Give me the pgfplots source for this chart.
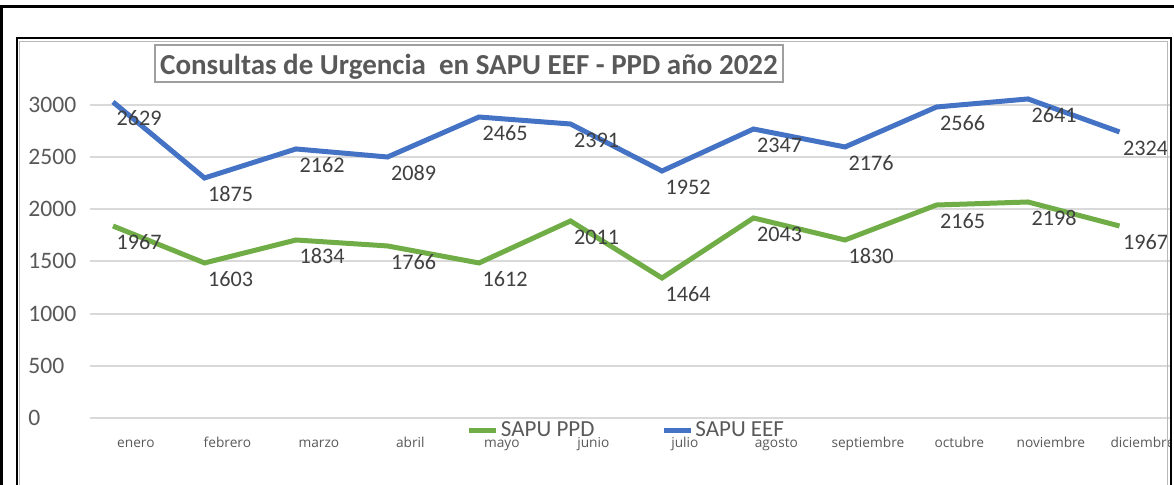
\documentclass[border=0pt]{standalone}
\usepackage{fontspec}
\setmainfont{Carlito}
\newfontfamily\osans{Open Sans}
\usepackage{pgfplots}
\pgfplotsset{compat=1.18}
\definecolor{eefblue}{HTML}{4472C4}
\definecolor{ppdgreen}{HTML}{70AD47}
\definecolor{txtgrey}{HTML}{595959}
\definecolor{lblgrey}{HTML}{404040}
\definecolor{gridgrey}{HTML}{D9D9D9}

\begin{document}
\begin{tikzpicture}
\begin{axis}[
    at={(45pt,33.5pt)}, anchor=south west,
    scale only axis,
    width=542pt, height=177.48pt,
    xmin=-0.2514, xmax=11.5956,
    ymin=0, ymax=3400,
    clip=false,
    axis line style={draw=none},
    major tick length=0pt,
    ymajorgrids,
    major grid style={color=gridgrey, line width=1pt},
    ytick={0,500,...,3000},
    /pgf/number format/1000 sep={},
    /pgf/number format/assume math mode=true,
    yticklabel style={font=\fontsize{11.8}{13}\selectfont, text=txtgrey, anchor=west, inner sep=0pt, xshift=-31pt},
    xtick={0.25,1.25,...,11.25},
    xticklabels={enero,febrero,marzo,abril,mayo,junio,julio,agosto,septiembre,octubre,noviembre,diciembre},
    xticklabel style={font=\osans\fontsize{6.85}{8}\selectfont, text=txtgrey, anchor=base, inner sep=0pt, yshift=-15pt},
    nodes near coords={\pgfplotspointmeta},
    point meta=explicit symbolic,
    every node near coord/.append style={font=\fontsize{11.1}{13}\selectfont, text=lblgrey, anchor=west, inner sep=0pt, xshift=0.5pt, yshift=-8pt},
    legend columns=2,
    legend style={at={(0.4949,-0.0366)}, anchor=center, draw=none, fill=none,
        font=\fontsize{11.5}{13}\selectfont, text=txtgrey,
        nodes={inner sep=1pt},
        /tikz/every even column/.append style={column sep=32.5pt}},
    legend image code/.code={\draw[#1] (0pt,0pt) -- (13.5pt,0pt);},
]
\addplot[ppdgreen, line width=2.5pt] coordinates {
    (0,1839) [1967] (1,1485) [1603] (2,1705) [1834] (3,1648) [1766]
    (4,1485) [1612] (5,1887) [2011] (6,1341) [1464] (7,1916) [2043]
    (8,1705) [1830] (9,2040) [2165] (10,2069) [2198] (11,1839) [1967]};
\addlegendentry{SAPU PPD}
\addplot[eefblue, line width=2.5pt] coordinates {
    (0,3027) [2629] (1,2299) [1875] (2,2577) [2162] (3,2500) [2089]
    (4,2883) [2465] (5,2816) [2391] (6,2366) [1952] (7,2768) [2347]
    (8,2596) [2176] (9,2979) [2566] (10,3056) [2641] (11,2740) [2324]};
\addlegendentry{SAPU EEF}
\end{axis}
% frames and title, 1px = 0.5pt, y measured from the top
\begin{scope}[x=0.5pt, y=-0.5pt, shift={(0pt,242.5pt)}]
\fill[white] (1170.5,40) rectangle (1176,487);
\draw[black, line width=1.5pt] (0,7) -- (1176,7);
\draw[black, line width=1.5pt] (1.5,6.25) -- (1.5,487);
\draw[black, line width=1pt] (16.5,490) -- (16.5,38.5) -- (1170.5,38.5) -- (1170.5,490);
\draw[gray!55, line width=0.5pt] (19.5,490) -- (19.5,41.5) -- (1167.5,41.5) -- (1167.5,490);
\draw[gray!75, line width=1pt] (155,45) rectangle (783,82);
\node[anchor=base, inner sep=0pt, text=txtgrey, font=\fontsize{14.5}{17}\bfseries]
    at (469,75) {Consultas de Urgencia\ \ en SAPU EEF - PPD año 2022};
\end{scope}
\pgfresetboundingbox
\path[use as bounding box] (0pt,0pt) rectangle (587pt,242.5pt);
\end{tikzpicture}
\end{document}
